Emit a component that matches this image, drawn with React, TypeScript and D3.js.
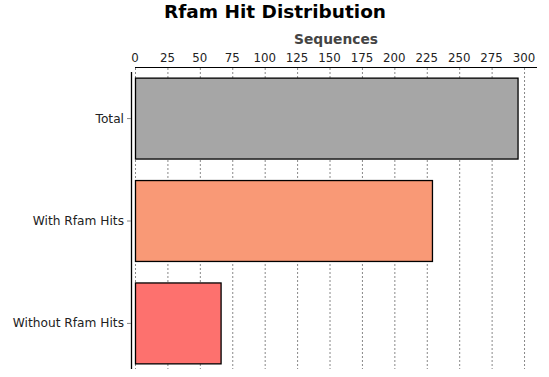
import React from "react";
import * as d3 from "d3";

const categories = ["Total", "With Rfam Hits", "Without Rfam Hits"];
const values = [295, 229, 66];
const colors = ["#a6a6a6", "#f99976", "#fd716e"];
const tickValues = [0, 25, 50, 75, 100, 125, 150, 175, 200, 225, 250, 275, 300];
const title = "Rfam Hit Distribution";
const axisTitle = "Sequences";

export default function App() {
  const W = 549, H = 377;
  const left = 135, right = 537, top = 72, bottom = 369;
  const x = d3.scaleLinear().domain([0, 310]).range([left, right]);
  const y = d3.scaleBand<string>().domain(categories).range([top, bottom]).paddingInner(0.21).paddingOuter(0.055);
  const font = "'DejaVu Sans', sans-serif";
  return (
    <svg width={W} height={H} style={{ position: "absolute", left: 0, top: 0, background: "#fff" }}>
      <rect x={0} y={0} width={W} height={H} fill="#fff" />
      <text x={275} y={18} textAnchor="middle" fontFamily={font} fontWeight="bold" fontSize={18.5} fill="#000">{title}</text>
      <text x={(left + right) / 2} y={43.5} textAnchor="middle" fontFamily={font} fontWeight="bold" fontSize={13.8} fill="#444">{axisTitle}</text>
      {tickValues.map((t) => (
        <g key={t}>
          <line x1={x(t) + 0.5} x2={x(t) + 0.5} y1={68} y2={bottom} stroke="#888" strokeDasharray="2,2" strokeWidth={1} />
          <text x={x(t)} y={62} textAnchor="middle" fontFamily={font} fontSize={11.8} fill="#222">{t}</text>
        </g>
      ))}
      <line x1={left} x2={right} y1={67.5} y2={67.5} stroke="#000" strokeWidth={1} />
      <line x1={131.5} x2={131.5} y1={top} y2={bottom} stroke="#000" strokeWidth={1.3} />
      {categories.map((c, i) => {
        const yy = y(c)!;
        const cy = yy + y.bandwidth() / 2;
        return (
          <g key={c}>
            <rect x={x(0) + 0.5} y={yy + 0.5} width={x(values[i]) - x(0)} height={y.bandwidth()} fill={colors[i]} stroke="#000" strokeWidth={1.3} />
            <line x1={127} x2={131} y1={cy + 0.5} y2={cy + 0.5} stroke="#888" />
            <text x={124} y={cy + 4.5} textAnchor="end" fontFamily={font} fontSize={12.2} fill="#222">{c}</text>
          </g>
        );
      })}
    </svg>
  );
}
